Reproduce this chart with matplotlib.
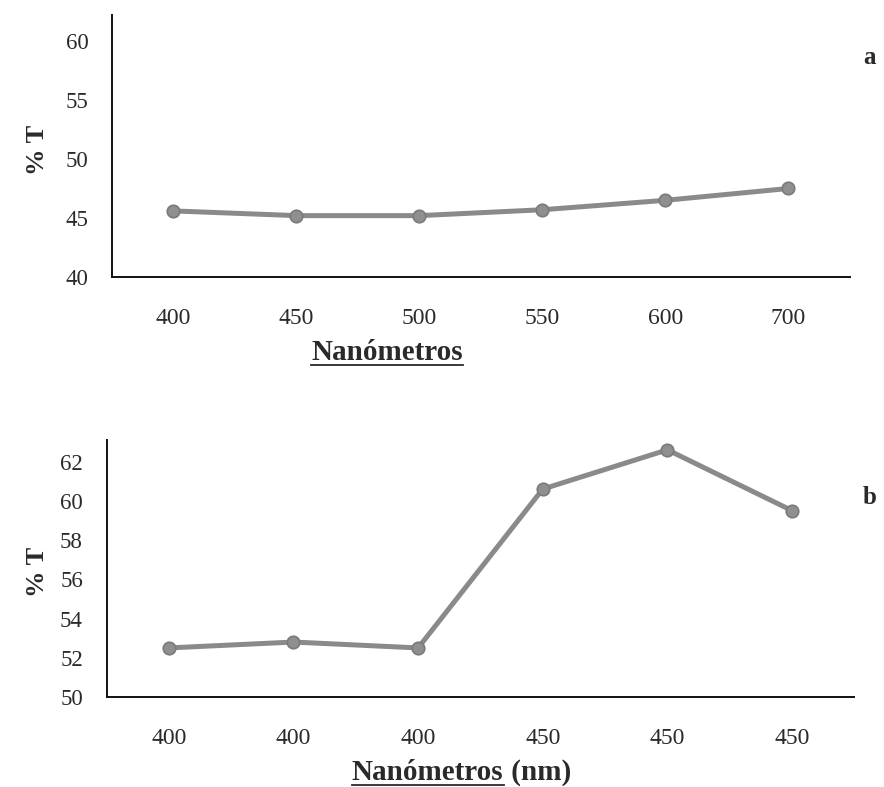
import matplotlib
matplotlib.use('Agg')
import matplotlib.pyplot as plt
from matplotlib.lines import Line2D

# data
labels_a = ['400', '450', '500', '550', '600', '700']
values_a = [45.6, 45.2, 45.2, 45.7, 46.5, 47.5]

labels_b = ['400', '400', '400', '450', '450', '450']
values_b = [52.5, 52.8, 52.5, 60.6, 62.6, 59.5]

plt.rcParams['font.family'] = ['Liberation Serif', 'DejaVu Serif']

line_col = '#8a8a8a'
text_col = '#2a2a2a'

fig = plt.figure(figsize=(8.84, 7.87), dpi=100)
ax1 = fig.add_axes([0.1267, 0.648, 0.8348, 0.333])
ax2 = fig.add_axes([0.1205, 0.1144, 0.846, 0.3265])


def style_panel(ax, labels, values, ylim, yticks):
    pos = [i + 0.5 for i in range(len(values))]
    ax.plot(pos, values, color=line_col, lw=3.6, marker='o', ms=9,
            mfc='#8f8f8f', mec='#7a7a7a', mew=1.2, solid_joinstyle='round')
    ax.set_xlim(0, len(values))
    ax.set_ylim(*ylim)
    ax.set_yticks(yticks)
    ax.set_xticks(pos)
    ax.set_xticklabels(labels)
    for s in ['top', 'right']:
        ax.spines[s].set_visible(False)
    for s in ['left', 'bottom']:
        ax.spines[s].set_linewidth(1.4)
        ax.spines[s].set_color('#111111')
    ax.tick_params(length=0, colors=text_col)
    ax.tick_params(axis='x', pad=22, labelsize=17)
    ax.tick_params(axis='y', pad=17, labelsize=16.5)
    ax.set_facecolor('none')


style_panel(ax1, labels_a, values_a, (40, 62.2), [40, 45, 50, 55, 60])
style_panel(ax2, labels_b, values_b, (50, 63.1), [50, 52, 54, 56, 58, 60, 62])

# y labels and panel letters
fig.text(37 / 884, 1 - 150 / 787, '% T', rotation=90, ha='center', va='center',
         fontsize=19, fontweight='bold', color=text_col)
fig.text(37 / 884, 1 - 572 / 787, '% T', rotation=90, ha='center', va='center',
         fontsize=19, fontweight='bold', color=text_col)
fig.text(870 / 884, 1 - 57 / 787, 'a', ha='center', va='center',
         fontsize=18, fontweight='bold', color=text_col)
fig.text(870 / 884, 1 - 497 / 787, 'b', ha='center', va='center',
         fontsize=18, fontweight='bold', color=text_col)

# x labels, "Nanómetros" underlined
t1 = fig.text(387 / 884, 1 - 353 / 787, 'Nanómetros', ha='center', va='center',
              fontsize=21, fontweight='bold', color=text_col)
t2 = fig.text(352 / 884, 1 - 773 / 787, 'Nanómetros', ha='left', va='center',
              fontsize=21, fontweight='bold', color=text_col)
fig.canvas.draw()
r = fig.canvas.get_renderer()
bb2 = t2.get_window_extent(r)
fig.text(bb2.x1 / 884, 1 - 773 / 787, ' (nm)', ha='left', va='center',
         fontsize=21, fontweight='bold', color=text_col)

for t in (t1, t2):
    bb = t.get_window_extent(r)
    y = (bb.y0 + 2) / 787
    fig.add_artist(Line2D([bb.x0 / 884, bb.x1 / 884], [y, y],
                          color=text_col, lw=1.3, transform=fig.transFigure))

fig.savefig('out.png', dpi=100)
